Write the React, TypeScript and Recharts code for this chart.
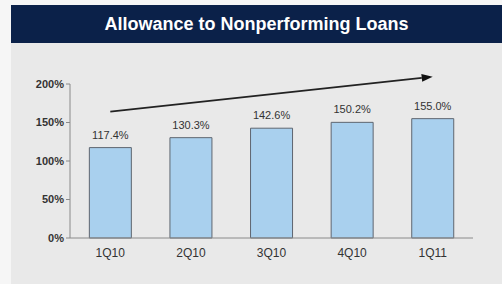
import { BarChart, Bar, XAxis, YAxis, LabelList, ReferenceLine } from "recharts";

const quarters = ["1Q10", "2Q10", "3Q10", "4Q10", "1Q11"];
const coverage = [117.4, 130.3, 142.6, 150.2, 155.0];
const yTicks = [0, 50, 100, 150, 200];
const bandEdges = [1, 2, 3, 4, 5];
const trendStart = 164;
const trendEnd = 209.5;

const data = quarters.map((q, i) => ({ quarter: q, value: coverage[i] }));

const font = "'Liberation Sans', Arial, sans-serif";

// trend line with a filled arrow head at the end
const TrendArrow = (props: any) => {
  const { x1, y1, x2, y2 } = props;
  const ang = Math.atan2(y2 - y1, x2 - x1);
  const len = 11;
  const half = 4;
  const bx = x2 - len * Math.cos(ang);
  const by = y2 - len * Math.sin(ang);
  const px = -Math.sin(ang) * half;
  const py = Math.cos(ang) * half;
  return (
    <g>
      <line x1={x1} y1={y1} x2={bx} y2={by} stroke="#222" strokeWidth={1.8} />
      <polygon points={`${x2},${y2} ${bx + px},${by + py} ${bx - px},${by - py}`} fill="#111" />
    </g>
  );
};

export default function App() {
  return (
    <div
      style={{
        position: "fixed",
        left: 0,
        top: 0,
        width: 502,
        height: 284,
        background: "#f6f6f6",
        fontFamily: font,
      }}
    >
      <div
        style={{
          position: "absolute",
          left: 11,
          top: 5,
          width: 491,
          height: 38,
          background: "#0b2149",
          color: "#fff",
          fontWeight: "bold",
          fontSize: 18,
          lineHeight: "38px",
          textAlign: "center",
        }}
      >
        Allowance to Nonperforming Loans
      </div>
      <div style={{ position: "absolute", left: 11, top: 43, width: 491, height: 241, background: "#e9e9e9" }}>
        <BarChart
          width={491}
          height={241}
          data={data}
          margin={{ top: 41, right: 29, bottom: 0, left: 0 }}
          barCategoryGap="24%"
        >
          {/* band boundary tick marks, sits right on the plot's bottom edge */}
          <XAxis
            xAxisId="edges"
            type="number"
            domain={[0, 5]}
            ticks={bandEdges}
            axisLine={false}
            tick={false}
            tickLine={{ stroke: "#8a8a8a" }}
            tickSize={3}
            height={0}
            orientation="bottom"
          />
          <XAxis
            dataKey="quarter"
            tickLine={false}
            axisLine={{ stroke: "#8a8a8a" }}
            tick={{ fill: "#333", fontSize: 12, fontFamily: font }}
            tickMargin={4}
            height={46}
          />
          <YAxis
            domain={[0, 200]}
            ticks={yTicks}
            tickFormatter={(v) => `${v}%`}
            width={59}
            axisLine={{ stroke: "#8a8a8a" }}
            tickLine={{ stroke: "#8a8a8a" }}
            tickSize={4}
            tick={{ fill: "#333", fontSize: 11, fontWeight: "bold", fontFamily: font }}
          />
          <ReferenceLine
            segment={[
              { x: quarters[0], y: trendStart },
              { x: quarters[quarters.length - 1], y: trendEnd },
            ]}
            ifOverflow="visible"
            shape={TrendArrow}
          />
          <Bar dataKey="value" fill="#a9d0ee" stroke="#5f6670" strokeWidth={1} isAnimationActive={false}>
            <LabelList
              dataKey="value"
              position="top"
              offset={9}
              formatter={(v: any) => `${Number(v).toFixed(1)}%`}
              style={{ fill: "#333", fontSize: 11, fontFamily: font }}
            />
          </Bar>
        </BarChart>
      </div>
    </div>
  );
}
